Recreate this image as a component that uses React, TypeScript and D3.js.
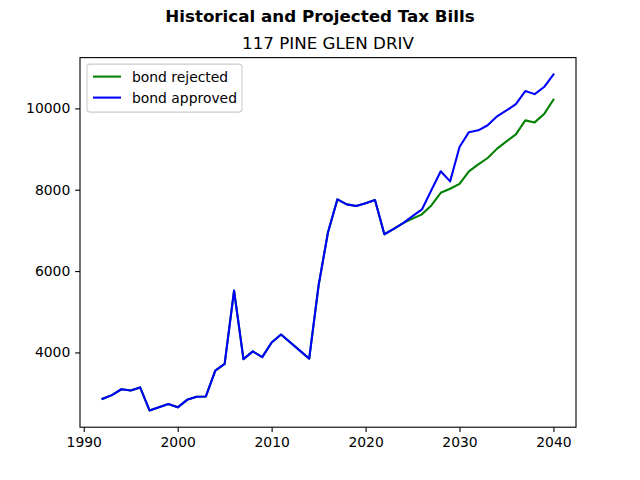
import * as d3 from 'd3';
import { useEffect, useRef } from 'react';

// years and bills
const histYears = [1992, 1993, 1994, 1995, 1996, 1997, 1998, 1999, 2000, 2001, 2002, 2003, 2004, 2005, 2006, 2007, 2008, 2009, 2010, 2011, 2014, 2015, 2016, 2017, 2018, 2019, 2020, 2021, 2022, 2023, 2024];
const histBills = [2860, 2950, 3095, 3065, 3140, 2575, 2655, 2730, 2650, 2835, 2910, 2918, 3555, 3720, 5520, 3835, 4025, 3885, 4245, 4440, 3848, 5650, 6955, 7762, 7640, 7600, 7670, 7745, 6905, 7040, 7180];
const projYears = [2025, 2026, 2027, 2028, 2029, 2030, 2031, 2032, 2033, 2034, 2035, 2036, 2037, 2038, 2039, 2040];
const rejectedBills = [7290, 7395, 7615, 7925, 8025, 8145, 8450, 8625, 8780, 9010, 9190, 9360, 9705, 9655, 9860, 10215];
const approvedBills = [7350, 7515, 7985, 8455, 8205, 9050, 9415, 9460, 9585, 9805, 9950, 10105, 10425, 10350, 10525, 10835];
const xTicks = [1990, 2000, 2010, 2020, 2030, 2040];
const yTicks = [4000, 6000, 8000, 10000];
const seriesNames = ['bond rejected', 'bond approved'];
const seriesColors = ['green', 'blue'];

interface Pt { year: number; bill: number; }

const App = () => {
  const svgRef = useRef<SVGSVGElement | null>(null);

  useEffect(() => {
    if (!svgRef.current) return;
    const width = 640;
    const height = 480;
    const margin = { top: 57.6, right: 64, bottom: 52.8, left: 80 };
    const innerWidth = width - margin.left - margin.right;
    const innerHeight = height - margin.top - margin.bottom;
    const font = 'DejaVu Sans, sans-serif';

    const hist: Pt[] = histYears.map((y, i) => ({ year: y, bill: histBills[i] }));
    const rejected = hist.concat(projYears.map((y, i) => ({ year: y, bill: rejectedBills[i] })));
    const approved = hist.concat(projYears.map((y, i) => ({ year: y, bill: approvedBills[i] })));
    const all = rejected.concat(approved);

    const [x0, x1] = d3.extent(all, d => d.year) as [number, number];
    const [y0, y1] = d3.extent(all, d => d.bill) as [number, number];
    const xPad = (x1 - x0) * 0.05;
    const yPad = (y1 - y0) * 0.05;

    const root = d3.select(svgRef.current)
      .html('')
      .attr('width', width)
      .attr('height', height);

    root.append('rect').attr('width', width).attr('height', height).attr('fill', '#fff');

    const svg = root.append('g')
      .attr('transform', `translate(${margin.left},${margin.top})`);

    const xScale = d3.scaleLinear().domain([x0 - xPad, x1 + xPad]).range([0, innerWidth]);
    const yScale = d3.scaleLinear().domain([y0 - yPad, y1 + yPad]).range([innerHeight, 0]);

    const line = d3.line<Pt>()
      .x(d => xScale(d.year))
      .y(d => yScale(d.bill));

    [rejected, approved].forEach((s, i) => {
      svg.append('path')
        .datum(s)
        .attr('fill', 'none')
        .attr('stroke', seriesColors[i])
        .attr('stroke-width', 2.08)
        .attr('stroke-linejoin', 'round')
        .attr('stroke-linecap', 'square')
        .attr('d', line);
    });

    // X-Axis
    const xAxis = svg.append('g')
      .attr('transform', `translate(0,${innerHeight})`)
      .call(d3.axisBottom(xScale).tickValues(xTicks).tickFormat(d3.format('d')).tickSizeOuter(0).tickSize(4.86).tickPadding(4.86));

    // Y-Axis
    const yAxis = svg.append('g')
      .call(d3.axisLeft(yScale).tickValues(yTicks).tickFormat(d3.format('d')).tickSizeOuter(0).tickSize(4.86).tickPadding(4.86));

    [xAxis, yAxis].forEach(a => {
      a.select('.domain').remove();
      a.selectAll('line').attr('stroke', '#000').attr('stroke-width', 1.1);
      a.selectAll('text').attr('fill', '#000').style('font-family', font).style('font-size', '13.9px');
    });

    // frame
    svg.append('rect')
      .attr('width', innerWidth)
      .attr('height', innerHeight)
      .attr('fill', 'none')
      .attr('stroke', '#000')
      .attr('stroke-width', 1.1);

    // Titles
    root.append('text')
      .attr('x', width / 2)
      .attr('y', 22)
      .attr('text-anchor', 'middle')
      .style('font-family', font)
      .style('font-size', '16.7px')
      .style('font-weight', 'bold')
      .text('Historical and Projected Tax Bills');

    root.append('text')
      .attr('x', margin.left + innerWidth / 2)
      .attr('y', margin.top - 8.3)
      .attr('text-anchor', 'middle')
      .style('font-family', font)
      .style('font-size', '16.7px')
      .text('117 PINE GLEN DRIV');

    // Legend
    const legend = svg.append('g').attr('transform', 'translate(7,6.5)');
    legend.append('rect')
      .attr('width', 155)
      .attr('height', 48)
      .attr('rx', 3)
      .attr('fill', '#fff')
      .attr('fill-opacity', 0.8)
      .attr('stroke', '#cccccc')
      .attr('stroke-width', 1.1);

    seriesNames.forEach((name, i) => {
      const cy = 12.5 + i * 21;
      legend.append('line')
        .attr('x1', 6).attr('x2', 34)
        .attr('y1', cy).attr('y2', cy)
        .attr('stroke', seriesColors[i])
        .attr('stroke-width', 2.08);
      legend.append('text')
        .attr('x', 45)
        .attr('y', cy + 5)
        .style('font-family', font)
        .style('font-size', '13.9px')
        .text(name);
    });
  }, []);

  return <svg ref={svgRef} style={{ position: 'absolute', left: 0, top: 0 }} />;
};

export default App;
